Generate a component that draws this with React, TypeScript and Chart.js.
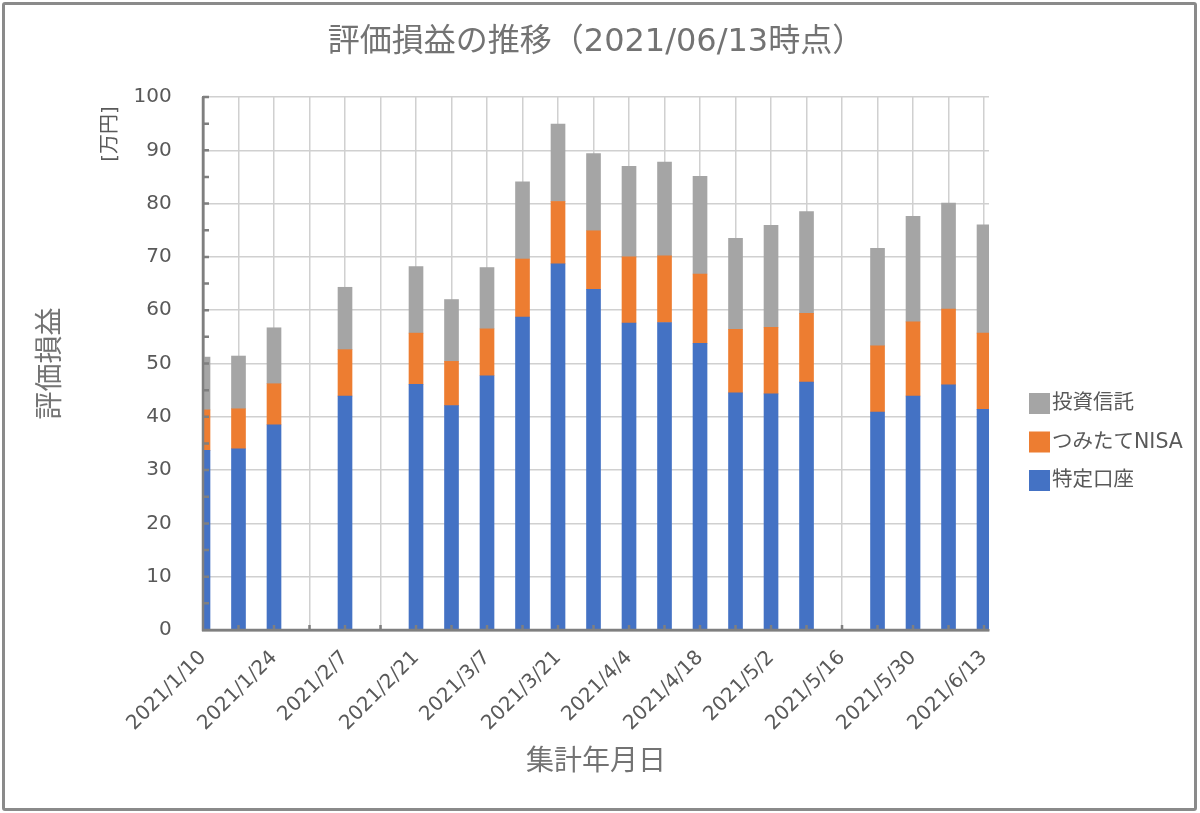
import React, { useEffect, useRef } from 'react';
import { Chart, registerables } from 'chart.js';

Chart.register(...registerables);

// ---- data ----
const weekLabels = [
  '2021/1/10', '2021/1/17', '2021/1/24', '2021/1/31', '2021/2/7', '2021/2/14',
  '2021/2/21', '2021/2/28', '2021/3/7', '2021/3/14', '2021/3/21', '2021/3/28',
  '2021/4/4', '2021/4/11', '2021/4/18', '2021/4/25', '2021/5/2', '2021/5/9',
  '2021/5/16', '2021/5/23', '2021/5/30', '2021/6/6', '2021/6/13',
];
const tokuteiKoza = [33.7, 34.0, 38.5, null, 43.9, null, 46.1, 42.1, 47.7, 58.7, 68.7, 63.9, 57.6, 57.7, 53.8, 44.5, 44.3, 46.5, null, 40.9, 43.9, 46.0, 41.4];
const tsumitateNisa = [7.6, 7.5, 7.7, null, 8.7, null, 9.6, 8.3, 8.8, 10.9, 11.7, 11.0, 12.4, 12.5, 13.0, 11.9, 12.5, 12.9, null, 12.4, 13.9, 14.2, 14.3];
const toshiShintaku = [9.9, 9.9, 10.5, null, 11.7, null, 12.5, 11.6, 11.5, 14.5, 14.5, 14.5, 17.0, 17.6, 18.3, 17.1, 19.1, 19.1, null, 18.3, 19.8, 19.9, 20.3];
const seriesNames = ['特定口座', 'つみたてNISA', '投資信託'];
const yTickMin = 0;
const yTickMax = 100;
const yTickStep = 10;
const yMinorStep = 5;

const titleText = '評価損益の推移（2021/06/13時点）';
const xTitle = '集計年月日';
const yTitle = '評価損益';
const unitText = '[万円]';

// ---- styles ----
const FONT = "'DejaVu Sans', 'Noto Sans CJK JP', sans-serif";
const TEXT = '#595959';
const TITLE_COLOR = '#737373';
const GRID = '#d0d0d0';
const AXIS = '#7f7f7f';
const COLORS = ['#4472C4', '#ED7D31', '#A5A5A5'];

const innerTicks = {
  id: 'innerTicks',
  afterDatasetsDraw(chart: any) {
    const { ctx, chartArea, scales } = chart;
    const x = scales.x;
    const y = scales.y;
    ctx.save();
    ctx.strokeStyle = AXIS;
    ctx.lineWidth = 2.5;
    ctx.beginPath();
    ctx.moveTo(chartArea.left, chartArea.top);
    ctx.lineTo(chartArea.left, chartArea.bottom);
    ctx.lineTo(chartArea.right, chartArea.bottom);
    for (let v = yTickMin; v <= yTickMax; v += yMinorStep) {
      const py = y.getPixelForValue(v);
      ctx.moveTo(chartArea.left, py);
      ctx.lineTo(chartArea.left + 6, py);
    }
    for (let i = 0; i < weekLabels.length; i++) {
      const px = x.getPixelForValue(i);
      ctx.moveTo(px, chartArea.bottom);
      ctx.lineTo(px, chartArea.bottom - 5);
    }
    ctx.stroke();
    ctx.restore();
  },
};

const extraText = {
  id: 'extraText',
  afterDraw(chart: any) {
    const { ctx, chartArea } = chart;
    ctx.save();
    // unit label
    ctx.translate(chartArea.left - 92, chartArea.top + 37);
    ctx.rotate(-Math.PI / 2);
    ctx.font = `normal 20px ${FONT}`;
    ctx.fillStyle = TEXT;
    ctx.textAlign = 'center';
    ctx.textBaseline = 'middle';
    ctx.fillText(unitText, 0, 0);
    ctx.restore();

    // legend (reversed order, like Excel)
    ctx.save();
    ctx.font = `normal 20.5px ${FONT}`;
    ctx.textAlign = 'left';
    ctx.textBaseline = 'middle';
    const ds = chart.data.datasets;
    const bx = chartArea.right + 40;
    let by = chartArea.top + 296;
    for (let k = ds.length - 1; k >= 0; k--) {
      ctx.fillStyle = ds[k].backgroundColor;
      ctx.fillRect(bx, by, 21, 21);
      ctx.fillStyle = TEXT;
      ctx.fillText(ds[k].label, bx + 23, by + 11);
      by += 38.5;
    }
    ctx.restore();
  },
};

export default function App() {
  const ref = useRef<HTMLCanvasElement>(null);

  useEffect(() => {
    Chart.defaults.font.family = FONT;
    Chart.defaults.color = TEXT;
    const series = [tokuteiKoza, tsumitateNisa, toshiShintaku];
    const chart = new Chart(ref.current as HTMLCanvasElement, {
      type: 'bar',
      data: {
        datasets: series.map((arr, k) => ({
          label: seriesNames[k],
          data: arr.map((v, i) => ({ x: i, y: v })),
          backgroundColor: COLORS[k],
          borderWidth: 0,
          barThickness: 14,
          clip: 0,
        })),
      },
      options: {
        responsive: false,
        animation: false,
        layout: { padding: { left: 4, right: 211, top: 4, bottom: 4 } },
        plugins: {
          legend: { display: false },
          tooltip: { enabled: false },
          title: {
            display: true,
            text: titleText,
            color: TITLE_COLOR,
            fullSize: false,
            font: { size: 32, weight: 'normal' },
            padding: { top: 19.3, bottom: 35.3 },
          },
        },
        scales: {
          x: {
            type: 'linear',
            stacked: true,
            offset: false,
            min: 0,
            max: 22.14,
            afterFit: (s: any) => { s.height = 179; },
            grid: { color: GRID, lineWidth: 1.5, drawTicks: false, offset: false },
            border: { display: true, color: AXIS, width: 2.5 },
            ticks: {
              stepSize: 1,
              autoSkip: false,
              includeBounds: false,
              maxRotation: 45,
              minRotation: 45,
              padding: 16,
              color: TEXT,
              font: { size: 20 },
              callback: (v: any) => (Number.isInteger(v) && v % 2 === 0 ? weekLabels[v] : ''),
            },
            title: {
              display: true,
              text: xTitle,
              color: TITLE_COLOR,
              font: { size: 28 },
              padding: { top: 0, bottom: 29.2 },
            },
          },
          y: {
            stacked: true,
            min: yTickMin,
            max: yTickMax,
            afterFit: (s: any) => { s.width = 199; },
            grid: { color: GRID, lineWidth: 1.5, drawTicks: false },
            border: { display: true, color: AXIS, width: 2.5 },
            ticks: {
              stepSize: yTickStep,
              padding: 31.3,
              color: TEXT,
              font: { size: 20 },
            },
            title: {
              display: true,
              text: yTitle,
              color: TITLE_COLOR,
              font: { size: 28 },
              padding: { top: 31, bottom: 0 },
            },
          },
        },
      },
      plugins: [innerTicks, extraText],
    } as any);
    return () => chart.destroy();
  }, []);

  return (
    <div style={{ position: 'absolute', left: 0, top: 0, width: 1200, height: 813, background: '#ffffff' }}>
      <canvas
        ref={ref}
        width={1200}
        height={813}
        style={{ position: 'absolute', left: 0, top: 0, width: 1200, height: 813 }}
      />
      <div
        style={{
          position: 'absolute',
          left: 2,
          top: 2,
          width: 1195,
          height: 809,
          border: '3px solid #8a8a8a',
          boxSizing: 'border-box',
          borderRadius: 3,
          pointerEvents: 'none',
        }}
      />
    </div>
  );
}
